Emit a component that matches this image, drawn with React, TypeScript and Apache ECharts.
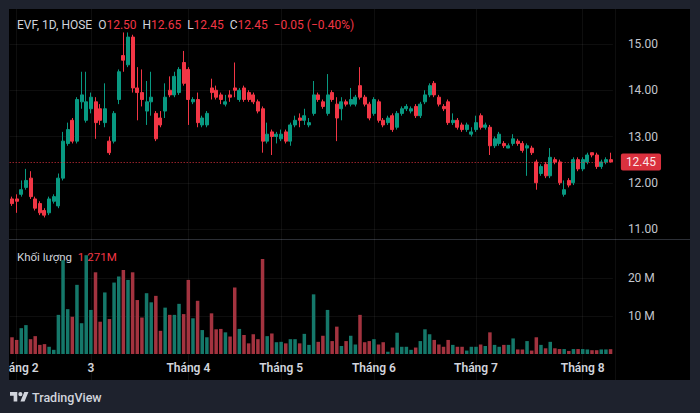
import React, { useEffect, useRef } from 'react';
import * as echarts from 'echarts';

const open = [
  11.65, 11.65, 11.75, 11.9, 12.1, 11.65, 11.55, 11.4, 11.35, 11.6,
  11.5, 12.1, 12.85, 13.35, 12.9, 13.75, 13.35, 13.6, 13.75, 13.6,
  13.3, 12.9, 12.9, 13.8, 14.75, 14.55, 15.15, 14.05, 13.95, 13.55,
  13.75, 13.5, 13.4, 13.55, 14.0, 13.9, 13.95, 14.6, 14.45, 13.75,
  13.8, 13.25, 13.25, 14.05, 14.0, 13.9, 13.7, 13.9, 14.05, 13.8,
  14.05, 13.95, 13.9, 13.75, 13.6, 12.9, 13.1, 13.0, 12.95, 13.1,
  12.9, 13.25, 13.4, 13.35, 13.25, 13.5, 13.9, 13.75, 13.5, 13.95,
  13.7, 13.6, 13.75, 13.7, 13.7, 14.1, 13.85, 13.7, 13.5, 13.75,
  13.35, 13.3, 13.45, 13.2, 13.5, 13.6, 13.55, 13.65, 13.45, 13.75,
  13.9, 14.15, 13.85, 13.65, 13.75, 13.3, 13.35, 13.25, 13.15, 13.05,
  13.15, 13.45, 13.2, 13.2, 12.8, 12.85, 12.85, 12.75, 12.85, 12.9,
  12.85, 12.75, 12.75, 12.45, 12.2, 12.4, 12.15, 12.5, 12.45, 11.75,
  12.05, 12.0, 12.5, 12.3, 12.45, 12.65, 12.6, 12.35, 12.45, 12.5,
];
const close = [
  11.55, 11.6, 11.85, 12.05, 11.7, 11.45, 11.35, 11.3, 11.65, 11.7,
  12.1, 12.9, 13.15, 12.9, 13.8, 13.9, 13.75, 13.85, 13.3, 13.35,
  13.6, 12.65, 13.5, 14.4, 14.65, 15.15, 14.05, 13.95, 13.8, 13.75,
  13.85, 12.95, 13.25, 13.85, 13.9, 14.3, 14.45, 14.15, 13.8, 13.8,
  13.3, 13.4, 13.5, 13.95, 13.85, 13.8, 13.75, 13.85, 14.0, 14.0,
  13.8, 13.8, 13.75, 13.55, 12.9, 13.05, 13.0, 13.05, 13.05, 12.9,
  13.25, 13.35, 13.35, 13.45, 13.3, 13.9, 13.8, 13.65, 13.9, 13.8,
  13.4, 13.75, 13.7, 13.8, 13.85, 13.85, 13.7, 13.4, 13.8, 13.35,
  13.25, 13.4, 13.15, 13.5, 13.6, 13.65, 13.6, 13.45, 13.7, 13.9,
  14.1, 13.9, 13.7, 13.6, 13.3, 13.35, 13.2, 13.15, 13.25, 13.1,
  13.3, 13.2, 13.25, 12.8, 12.95, 13.05, 12.8, 12.8, 12.95, 12.85,
  12.7, 12.8, 12.65, 12.0, 12.35, 12.15, 12.55, 12.45, 12.0, 11.85,
  11.95, 12.5, 12.3, 12.5, 12.6, 12.6, 12.35, 12.45, 12.5, 12.45,
];
const low = [
  11.5, 11.35, 11.7, 11.85, 11.65, 11.4, 11.3, 11.25, 11.3, 11.55,
  11.45, 12.05, 12.8, 12.85, 12.85, 13.6, 13.3, 13.5, 12.95, 13.25,
  13.2, 12.6, 12.85, 13.7, 14.4, 14.5, 13.95, 13.35, 13.65, 13.25,
  13.45, 12.9, 13.2, 13.4, 13.85, 13.85, 13.9, 14.1, 13.25, 13.7,
  13.2, 13.2, 13.2, 13.8, 13.8, 13.7, 13.65, 13.75, 13.85, 13.75,
  13.75, 13.75, 13.7, 13.5, 12.65, 12.85, 12.6, 12.85, 12.9, 12.85,
  12.8, 13.2, 13.2, 13.25, 13.2, 13.45, 13.75, 13.6, 13.45, 13.75,
  12.9, 13.35, 13.65, 13.65, 13.65, 13.8, 13.65, 13.35, 13.45, 13.3,
  13.2, 13.25, 13.1, 13.15, 13.45, 13.55, 13.5, 13.4, 13.4, 13.7,
  13.85, 13.85, 13.65, 13.55, 13.25, 13.25, 13.15, 13.1, 13.1, 13.0,
  13.1, 13.15, 13.15, 12.6, 12.75, 12.8, 12.75, 12.75, 12.8, 12.8,
  12.65, 12.15, 12.6, 11.85, 12.15, 12.1, 12.1, 12.4, 11.95, 11.7,
  11.9, 11.95, 12.25, 12.25, 12.4, 12.55, 12.3, 12.3, 12.4, 12.45,
];
const high = [
  11.7, 11.75, 12.05, 12.3, 12.25, 11.7, 11.6, 11.45, 11.7, 11.75,
  12.2, 13.1, 13.3, 13.4, 13.85, 14.4, 14.4, 13.95, 13.85, 13.7,
  14.15, 13.0, 13.55, 14.45, 15.25, 15.25, 15.2, 14.5, 14.45, 14.2,
  14.4, 13.55, 13.55, 14.15, 14.3, 14.4, 14.5, 14.85, 14.5, 13.85,
  13.95, 13.45, 13.55, 14.25, 14.1, 13.95, 13.9, 14.0, 14.6, 14.05,
  14.1, 14.0, 13.95, 13.8, 13.65, 13.3, 13.15, 13.1, 13.15, 13.15,
  13.3, 13.45, 13.5, 13.6, 13.4, 14.2, 13.95, 13.8, 14.35, 14.0,
  13.85, 13.85, 13.8, 14.05, 13.9, 14.5, 13.9, 13.75, 13.85, 13.8,
  13.4, 13.45, 13.5, 13.55, 13.65, 13.7, 13.65, 13.7, 13.75, 14.0,
  14.15, 14.2, 13.9, 13.7, 13.8, 13.5, 13.4, 13.3, 13.3, 13.2,
  13.45, 13.5, 13.3, 13.25, 13.0, 13.1, 12.9, 12.85, 13.05, 12.95,
  12.9, 12.85, 12.8, 12.5, 12.4, 12.45, 12.75, 12.55, 12.5, 12.05,
  12.1, 12.55, 12.55, 12.55, 12.65, 12.65, 12.65, 12.5, 12.55, 12.65,
];
// volume in millions of shares
const volume = [
  4.4, 3.7, 6.8, 7.6, 3.9, 4.7, 2.4, 2.6, 1.9, 1.1,
  10.3, 24.7, 11.8, 9.8, 18.2, 8.1, 26.0, 11.6, 21.5, 8.5,
  16.2, 9.2, 18.8, 20.4, 22.1, 19.5, 21.5, 14.2, 9.6, 16.0,
  13.6, 15.3, 6.1, 12.2, 10.3, 10.3, 13.2, 10.5, 19.5, 9.4,
  14.0, 6.3, 4.4, 10.7, 6.5, 6.6, 5.7, 4.6, 17.5, 6.6,
  5.0, 2.8, 5.2, 3.9, 25.0, 4.7, 5.4, 3.1, 3.2, 2.8,
  3.9, 3.9, 2.8, 5.3, 2.4, 15.7, 3.2, 4.8, 11.6, 3.4,
  7.2, 2.1, 3.4, 4.8, 2.5, 10.3, 3.1, 3.4, 3.9, 2.5,
  3.1, 0.6, 1.7, 5.6, 1.9, 1.9, 1.1, 1.7, 3.4, 6.5,
  5.2, 3.7, 2.5, 1.9, 3.7, 2.4, 1.9, 1.9, 0.9, 1.9,
  1.9, 2.5, 2.1, 5.7, 2.4, 1.9, 2.4, 2.4, 4.1, 1.2,
  1.2, 3.4, 0.9, 4.4, 2.4, 1.5, 3.2, 1.5, 1.3, 1.3,
  0.8, 1.3, 1.3, 1.3, 1.2, 1.0, 1.0, 1.2, 1.2, 1.271,
];
const monthTickIndex = [1, 17, 38, 58, 78, 100, 123];
const monthTickLabel = ['Tháng 2', '3', 'Tháng 4', 'Tháng 5', 'Tháng 6', 'Tháng 7', 'Tháng 8'];
const priceTicks = { min: 11, max: 15, step: 1 };
const volumeTicks = { min: 0, max: 20, step: 10 };

const UP = '#089981';
const DOWN = '#F23645';
const VOL_UP = '#15786a';
const VOL_DOWN = '#a3333f';
const TEXT = '#d1d4dc';
const AXIS_TEXT = '#c3c6ce';
const GRID = 'rgba(255,255,255,0.055)';
const FONT = 'Roboto, "Noto Sans", sans-serif';

echarts.graphic.registerShape(
  'tvlogo',
  echarts.graphic.extendPath('M14 22H7V11H0V4h14v18zM28 22h-8l7.5-18h8L28 22zM24 8a4 4 0 1 1-8 0a4 4 0 1 1 8 0z', {})
);

const categories = open.map((_, i) => 'd' + i);
const isTick = (i: number) => monthTickIndex.indexOf(i) >= 0;

function buildOption() {
  const n = open.length;
  const last = n - 1;
  const prevClose = close[last - 1];
  const chg = close[last] - prevClose;
  const pct = (chg / prevClose) * 100;
  const sign = chg < 0 ? '\u2212' : '+';
  const fmt = (v: number) => v.toFixed(2);
  const lastUp = close[last] >= open[last];
  const lastColor = lastUp ? UP : DOWN;

  const band = 4.64;
  const plotLeft = 0.68;
  const plotWidth = band * n;

  const headerText =
    '{w|EVF, 1D, HOSE}  {w|O}{r|' + fmt(open[last]) + '}  {w|H}{r|' + fmt(high[last]) +
    '}  {w|L}{r|' + fmt(low[last]) + '}  {w|C}{r|' + fmt(close[last]) + '}  {r|' +
    sign + Math.abs(chg).toFixed(2) + ' (' + sign + Math.abs(pct).toFixed(2) + '%)}';

  return {
    animation: false,
    backgroundColor: 'transparent',
    textStyle: { fontFamily: FONT },
    grid: [
      { left: plotLeft, width: plotWidth, top: 35, height: 185, outerBoundsMode: 'none' },
      { left: plotLeft, width: plotWidth, top: 269, height: 76, outerBoundsMode: 'none' },
      { left: plotLeft + band / 2, width: plotWidth, top: 0, height: 371, outerBoundsMode: 'none' },
    ],
    xAxis: [
      {
        gridIndex: 0, type: 'category', data: categories, boundaryGap: true,
        axisLine: { show: false }, axisTick: { show: false }, axisLabel: { show: false }, splitLine: { show: false },
      },
      {
        gridIndex: 1, type: 'category', data: categories, boundaryGap: true,
        axisLine: { show: false }, axisTick: { show: false }, splitLine: { show: false },
        axisLabel: {
          show: true,
          interval: (i: number) => isTick(i),
          formatter: (_v: string, i: number) => monthTickLabel[monthTickIndex.indexOf(i)] ?? '',
          color: TEXT, fontSize: 12, fontWeight: 600, margin: 8, fontFamily: FONT,
        },
      },
      {
        gridIndex: 2, type: 'category', data: categories, boundaryGap: true,
        axisLine: { show: false }, axisTick: { show: false }, axisLabel: { show: false },
        splitLine: { show: true, interval: (i: number) => isTick(i), lineStyle: { color: GRID, width: 1 } },
      },
    ],
    yAxis: [
      {
        gridIndex: 0, type: 'value', position: 'right', min: priceTicks.min, max: priceTicks.max, interval: priceTicks.step,
        axisLine: { show: false }, axisTick: { show: false },
        axisLabel: { color: AXIS_TEXT, fontSize: 12, margin: 15, formatter: (v: number) => v.toFixed(2), fontFamily: FONT },
        splitLine: { show: true, lineStyle: { color: GRID, width: 1 } },
      },
      {
        gridIndex: 1, type: 'value', position: 'right', min: volumeTicks.min, max: volumeTicks.max, interval: volumeTicks.step,
        axisLine: { show: false }, axisTick: { show: false },
        axisLabel: { color: AXIS_TEXT, fontSize: 12, margin: 15, formatter: (v: number) => (v === 0 ? '' : v + ' M'), fontFamily: FONT },
        splitLine: { show: true, lineStyle: { color: ['transparent', GRID, GRID], width: 1 } },
      },
      { gridIndex: 2, type: 'value', min: 0, max: 1, show: false },
    ],
    series: [
      {
        type: 'candlestick', xAxisIndex: 0, yAxisIndex: 0, clip: false, barWidth: 3.5,
        data: open.map((o, i) => [o, close[i], low[i], high[i]]),
        itemStyle: { color: UP, color0: DOWN, borderColor: UP, borderColor0: DOWN, borderWidth: 1 },
        markLine: {
          silent: true, symbol: ['none', 'none'], animation: false,
          data: [{ yAxis: close[last] }],
          lineStyle: { color: lastColor, type: [1, 2], width: 1, opacity: 0.9 },
          label: {
            show: true, position: 'end', distance: 8, formatter: () => fmt(close[last]),
            color: '#fff', backgroundColor: lastColor, padding: [3, 5, 2, 5], fontSize: 12, borderRadius: 2, fontFamily: FONT,
          },
        },
      },
      {
        type: 'bar', xAxisIndex: 1, yAxisIndex: 1, clip: false, barWidth: 3.5,
        data: volume.map((v, i) => ({ value: v, itemStyle: { color: close[i] >= open[i] ? VOL_UP : VOL_DOWN } })),
        markLine: {
          silent: true, symbol: ['none', 'none'], animation: false,
          data: [{ yAxis: volume[last] }],
          lineStyle: { opacity: 0 },
          label: {
            show: true, position: 'end', distance: 8, formatter: () => volume[last].toFixed(3) + ' M',
            color: '#fff', backgroundColor: lastColor, padding: [3, 5, 2, 5], fontSize: 12, borderRadius: 2, fontFamily: FONT,
          },
        },
      },
    ],
    graphic: [
      {
        type: 'line', silent: true,
        shape: { x1: 0, y1: 230.5, x2: 681, y2: 230.5 },
        style: { stroke: '#2c2f36', lineWidth: 1 },
      },
      {
        type: 'text', x: 8, y: 16, silent: true,
        style: {
          text: headerText, verticalAlign: 'middle', fontSize: 12, fontFamily: FONT,
          rich: { w: { fill: TEXT, fontSize: 12, fontFamily: FONT }, r: { fill: lastColor, fontSize: 12, fontFamily: FONT } },
        },
      },
      {
        type: 'text', x: 8, y: 248, silent: true,
        style: {
          text: '{w|Khối lượng}  {r|' + volume[last].toFixed(3) + 'M}', verticalAlign: 'middle', fontSize: 11.5, fontFamily: FONT,
          rich: { w: { fill: TEXT, fontSize: 11.5, fontFamily: FONT }, r: { fill: lastColor, fontSize: 11.5, fontFamily: FONT } },
        },
      },
      {
        type: 'tvlogo', x: 1, y: 381, scaleX: 0.52, scaleY: 0.52, silent: true,
        style: { fill: TEXT },
      },
      {
        type: 'text', x: 23, y: 388, silent: true,
        style: { text: 'TradingView', fill: TEXT, fontSize: 12.5, fontWeight: 500, fontFamily: FONT, verticalAlign: 'middle' },
      },
    ],
  };
}

export default function App() {
  const ref = useRef<HTMLDivElement>(null);
  useEffect(() => {
    if (!ref.current) return;
    const chart = echarts.init(ref.current, null, { renderer: 'svg' });
    chart.setOption(buildOption() as any);
    return () => chart.dispose();
  }, []);
  return (
    <div style={{ position: 'fixed', left: 0, top: 0, width: 700, height: 413, background: '#1e222d', overflow: 'hidden' }}>
      <div
        ref={ref}
        style={{
          position: 'absolute', left: 9, top: 9, width: 681, height: 404, overflow: 'hidden',
          background: 'linear-gradient(#000 0px, #000 371px, #1e222d 371px)',
        }}
      />
    </div>
  );
}
